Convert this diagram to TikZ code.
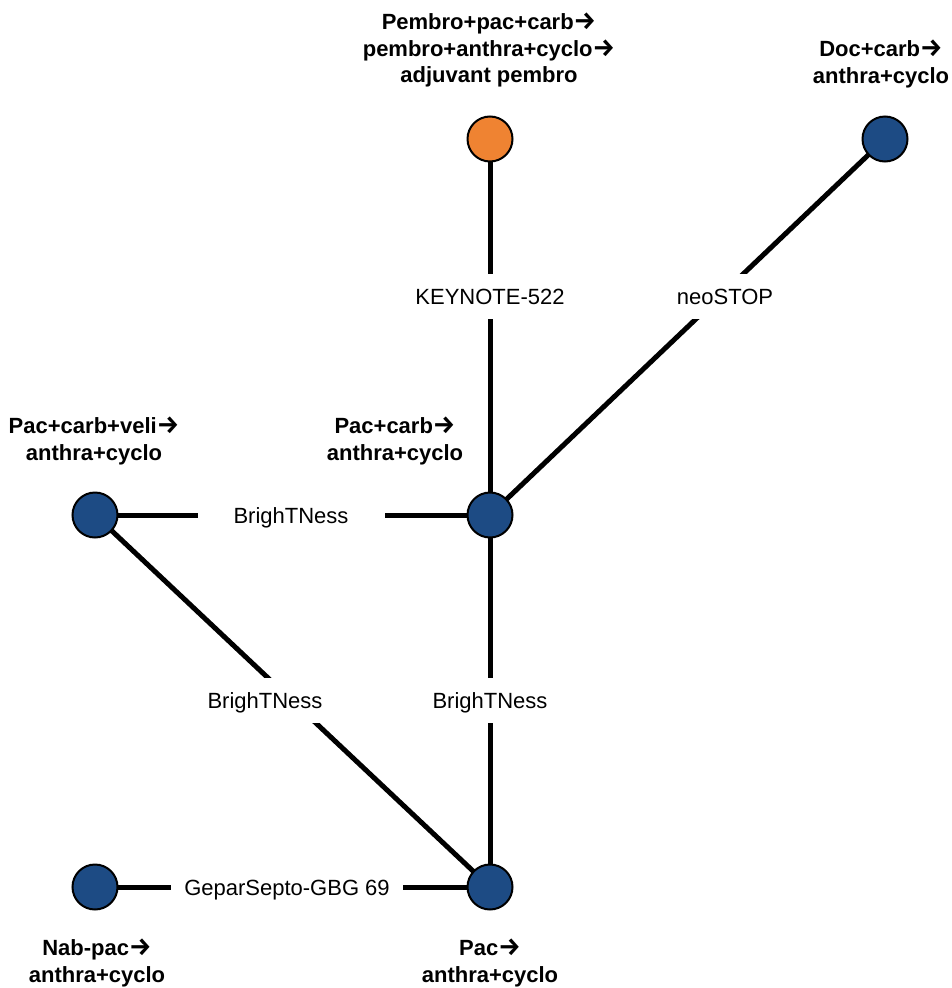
\documentclass[tikz,border=0pt]{standalone}
\usepackage{fontspec}
\setmainfont{Liberation Sans}
\newfontfamily\arrowfont{Fira Sans}
\newcommand{\myarr}{{\arrowfont\bfseries\fontsize{25}{26.5}\selectfont →}}
\usetikzlibrary{backgrounds}
\definecolor{nblue}{RGB}{29,75,132}
\definecolor{norange}{RGB}{239,131,50}
\begin{document}
\begin{tikzpicture}[x=1pt,y=-1pt,
  trt/.style={circle,draw=black,line width=2pt,minimum size=45pt,inner sep=0pt,fill=nblue},
  edge/.style={line width=5pt,black},
  elab/.style={fill=white,inner xsep=13pt,inner ysep=0pt,minimum height=45pt,text height=16pt,text depth=0pt,font=\fontsize{22}{27}\selectfont},
  tlab/.style={align=center,font=\fontsize{22}{26.5}\selectfont\bfseries,inner sep=0pt}]
\useasboundingbox (0,0) rectangle (952,988);
% treatment nodes
\node[trt,fill=norange] (pemb) at (490,139) {};
\node[trt] (doc) at (885,139) {};
\node[trt] (pc) at (490,515) {};
\node[trt] (pcv) at (95,515) {};
\node[trt] (nab) at (95,887) {};
\node[trt] (pac) at (490,887) {};
% connectors
\begin{pgfonlayer}{background}
\draw[edge] (pemb.center) -- (pc.center);
\draw[edge] (doc.center) -- (pc.center);
\draw[edge] (pcv.center) -- (pc.center);
\draw[edge] (pcv.center) -- (pac.center);
\draw[edge] (pc.center) -- (pac.center);
\draw[edge] (nab.center) -- (pac.center);
\end{pgfonlayer}
% connector labels
\node[elab] (lk) at (490,296) {KEYNOTE-522};
\node[elab] (ln) at (725,296) {neoSTOP};
\node[elab,minimum width=187pt] (lb1) at (291,515) {BrighTNess};
\node[elab] (lb2) at (265,700) {BrighTNess};
\node[elab] (lb3) at (490,700) {BrighTNess};
\node[elab] (lg) at (287,887) {GeparSepto-GBG 69};
% treatment labels
\node[tlab] (tpemb) at (489,50) {Pembro+pac+carb\myarr\\pembro+anthra+cyclo\myarr\\adjuvant pembro};
\node[tlab] (tdoc) at (881,64) {Doc+carb\myarr\\anthra+cyclo};
\node[tlab] (tpcv) at (94,441) {Pac+carb+veli\myarr\\anthra+cyclo};
\node[tlab] (tpc) at (395,441) {Pac+carb\myarr\\anthra+cyclo};
\node[tlab] (tnab) at (97,963) {Nab-pac\myarr\\anthra+cyclo};
\node[tlab] (tpac) at (490,963) {Pac\myarr\\anthra+cyclo};
\end{tikzpicture}
\end{document}
